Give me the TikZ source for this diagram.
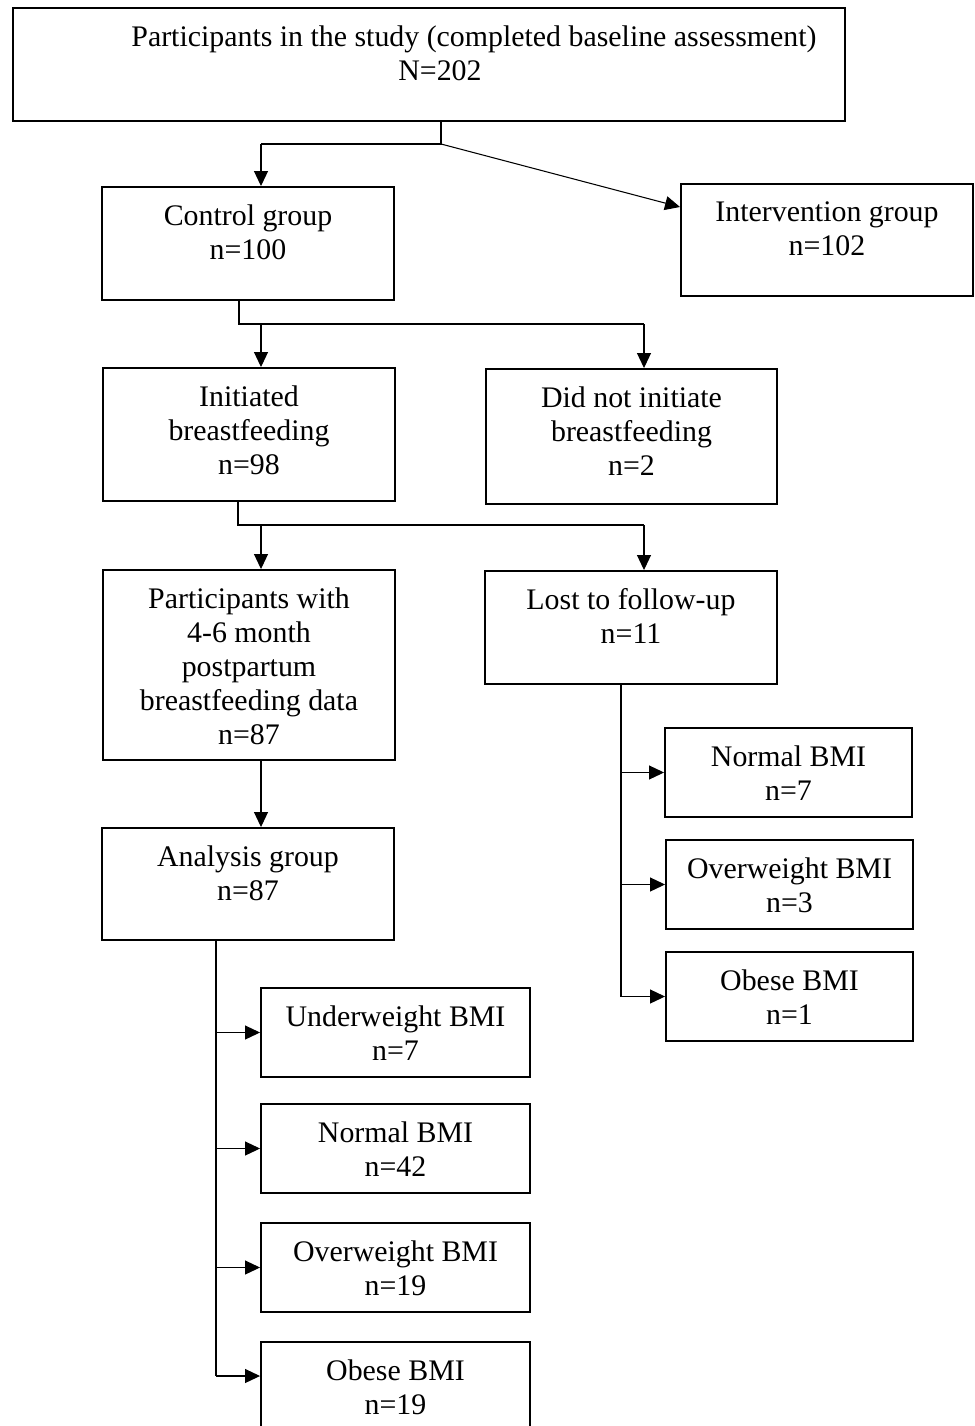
\documentclass[tikz,border=0pt]{standalone}
\usepackage{fontspec}
\setmainfont{Liberation Serif}
\usetikzlibrary{arrows.meta}

\tikzset{
    box/.style 2 args={draw, line width=1.1pt, inner sep=0pt,
        minimum width=#1*0.02cm, minimum height=#2*0.02cm},
    txt/.style={anchor=north, yshift=-0.36cm, align=center, inner sep=0pt,
        font=\fontsize{17}{19.4}\selectfont},
    conn/.style={line width=0.6pt},
    arr/.style={conn, -{Triangle[length=0.3cm, width=0.28cm]}},
}

\begin{document}
\begin{tikzpicture}[x=0.02cm, y=-0.02cm]
    \useasboundingbox (0,0) rectangle (974,1426);

    % boxes
    \node[box={832}{113}, label={[txt, xshift=0.22cm]90:{\hspace*{1.36cm}Participants in the study (completed baseline assessment)\\N=202}}] (top) at (429,64.5) {};

    \node[box={292}{113}, label={[txt]90:{Control group\\n=100}}] (ctrl) at (248,243.5) {};
    \node[box={292}{112}, label={[txt]90:{Intervention group\\n=102}}] (interv) at (827,240) {};

    \node[box={292}{133}, label={[txt]90:{Initiated\\breastfeeding\\n=98}}] (init) at (249,434.5) {};
    \node[box={291}{135}, label={[txt]90:{Did not initiate\\breastfeeding\\n=2}}] (didnot) at (631.5,436.5) {};

    \node[box={292}{190}, label={[txt]90:{Participants with\\4-6 month\\postpartum\\breastfeeding data\\n=87}}] (part) at (249,665) {};
    \node[box={292}{113}, label={[txt]90:{Lost to follow-up\\n=11}}] (lost) at (631,627.5) {};

    \node[box={247}{89}, label={[txt]90:{Normal BMI\\n=7}}] (normR) at (788.5,772.5) {};
    \node[box={247}{89}, label={[txt]90:{Overweight BMI\\n=3}}] (overR) at (789.5,884.5) {};
    \node[box={247}{89}, label={[txt]90:{Obese BMI\\n=1}}] (obeseR) at (789.5,996.5) {};

    \node[box={292}{112}, label={[txt]90:{Analysis group\\n=87}}] (anal) at (248,884) {};

    \node[box={269}{89}, label={[txt]90:{Underweight BMI\\n=7}}] (under) at (395.5,1032.5) {};
    \node[box={269}{89}, label={[txt]90:{Normal BMI\\n=42}}] (normL) at (395.5,1148.5) {};
    \node[box={269}{89}, label={[txt]90:{Overweight BMI\\n=19}}] (overL) at (395.5,1267.5) {};
    \node[box={269}{89}, label={[txt]90:{Obese BMI\\n=19}}] (obeseL) at (395.5,1386.5) {};

    % split below the top box
    \coordinate (s1) at (441,144);
    \coordinate (s1l) at (261,144);
    \draw[conn] (top.south -| s1) -- (s1) -- (s1l);
    \draw[arr] (s1l) -- (s1l |- ctrl.north);
    \draw[arr] (s1) -- ([yshift=0.66cm]interv.west);

    % split below control group
    \coordinate (s2) at (239,324);
    \coordinate (s2r) at (644,324);
    \draw[conn] (ctrl.south -| s2) -- (s2) -- (s2r);
    \draw[arr] (s2 -| s1l) -- (s1l |- init.north);
    \draw[arr] (s2r) -- (s2r |- didnot.north);

    % split below initiated
    \coordinate (s3) at (238,525);
    \coordinate (s3r) at (644,525);
    \draw[conn] (init.south -| s3) -- (s3) -- (s3r);
    \draw[arr] (s3 -| s1l) -- (s1l |- part.north);
    \draw[arr] (s3r) -- (s3r |- lost.north);

    \draw[arr] (part.south -| s1l) -- (s1l |- anal.north);

    % lost to follow-up branches
    \coordinate (t4) at (621,996.5);
    \draw[conn] (lost.south -| t4) -- (t4);
    \foreach \b in {normR, overR, obeseR}
        \draw[arr] (\b.west -| t4) -- (\b.west);

    % analysis group branches
    \coordinate (t5) at (216,1376);
    \draw[conn] (anal.south -| t5) -- (t5);
    \foreach \b in {under, normL, overL}
        \draw[arr] (\b.west -| t5) -- (\b.west);
    \draw[arr] (t5) -- (t5 -| obeseL.west);
\end{tikzpicture}
\end{document}
